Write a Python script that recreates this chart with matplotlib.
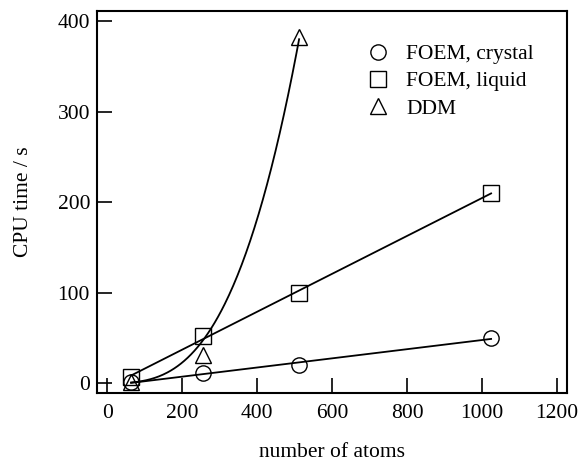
import matplotlib
matplotlib.use("Agg")
import matplotlib.pyplot as plt
import numpy as np

plt.rcParams["font.family"] = ["Liberation Serif", "DejaVu Serif"]

# CPU time vs system size
n_atoms = [64, 256, 512, 1024]
t_crystal = [1, 11, 20, 50]
t_liquid = [7, 52, 100, 210]
n_ddm = [64, 256, 512]
t_ddm = [1.5, 31, 382]

x_ticks = [0, 200, 400, 600, 800, 1000, 1200]
y_ticks = [0, 100, 200, 300, 400]

fig = plt.figure(figsize=(5.79, 4.63), dpi=100)
ax = fig.add_axes([0.1675, 0.151, 0.8115, 0.825])

fs = 15.5
mk = dict(linestyle="none", markerfacecolor="none", markeredgecolor="black",
          markeredgewidth=1.0, markersize=11)

# linear fits for FOEM, cubic fit for DDM
x = np.array(n_atoms, dtype=float)
xx = np.linspace(min(n_atoms), max(n_atoms), 200)
for t in (t_crystal, t_liquid):
    p = np.polyfit(x, np.array(t, dtype=float), 1)
    ax.plot(xx, np.polyval(p, xx), color="black", lw=1.3)

xd = np.array(n_ddm, dtype=float)
yd = np.array(t_ddm, dtype=float)
a = np.sum(yd * xd**3) / np.sum(xd**6)
xc = np.linspace(min(n_ddm), max(n_ddm), 200)
ax.plot(xc, a * xc**3, color="black", lw=1.3)

ax.plot(n_atoms, t_crystal, marker="o", label="FOEM, crystal", **mk)
ax.plot(n_atoms, t_liquid, marker="s", label="FOEM, liquid", **mk)
ax.plot(n_ddm, t_ddm, marker="^", label="DDM", **mk)

ax.set_xlim(-27, 1226)
ax.set_ylim(-11, 411)
ax.set_xticks(x_ticks)
ax.set_yticks(y_ticks)
ax.tick_params(direction="in", length=11, width=1.2, labelsize=fs,
               top=False, right=False)
ax.tick_params(axis="x", pad=8)
ax.tick_params(axis="y", pad=5)
for s in ax.spines.values():
    s.set_linewidth(1.5)

ax.set_xlabel("number of atoms", fontsize=fs, labelpad=14)
ax.set_ylabel("CPU time / s", fontsize=fs, labelpad=18)

ax.legend(loc="upper right", bbox_to_anchor=(0.975, 0.97), frameon=False,
          fontsize=fs, handlelength=1.0, handletextpad=0.8,
          labelspacing=0.33, borderpad=0.5)

fig.savefig("out.png", dpi=100)
